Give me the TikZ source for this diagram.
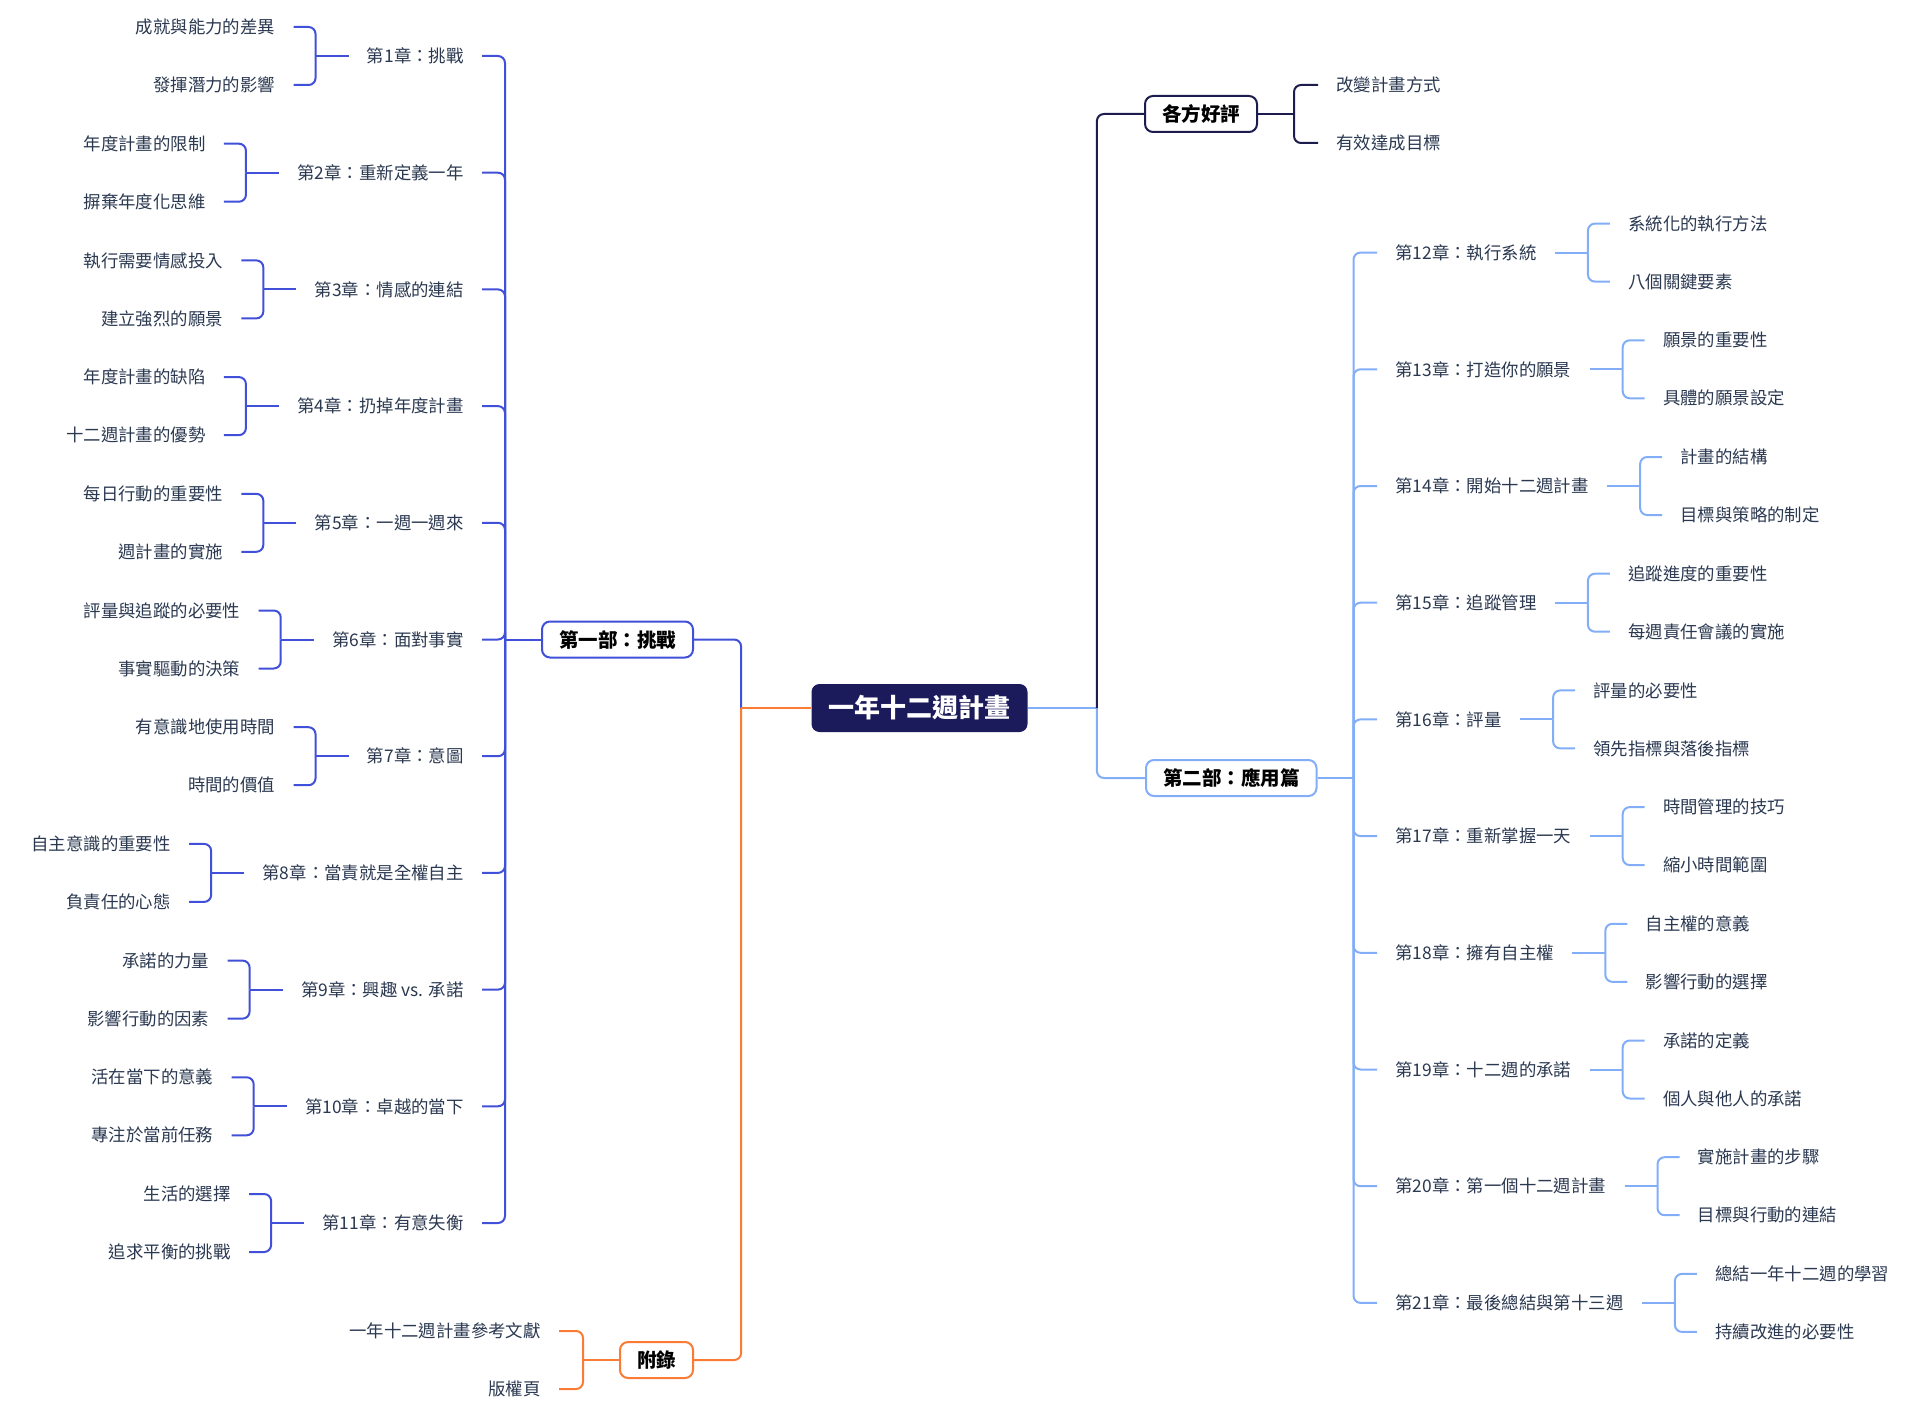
\documentclass[tikz,border=0pt]{standalone}
\usepackage{fontspec}
\setmainfont{Noto Sans CJK TC}
\usetikzlibrary{positioning,calc}
\definecolor{rootnavy}{HTML}{1B1A5A}
\definecolor{partblue}{HTML}{4150D8}
\definecolor{skyblue}{HTML}{82AEF8}
\definecolor{appendixorange}{HTML}{FA7B34}
\definecolor{reviewnavy}{HTML}{1C1C4F}
\definecolor{labelgray}{HTML}{2A3850}

\begin{document}
\begin{tikzpicture}[x=0.5pt,y=-0.5pt,
    root/.style={fill=rootnavy,text=white,rounded corners=4pt,inner xsep=8.5pt,
      minimum height=24pt,font=\bfseries\fontsize{13}{15}\selectfont},
    part/.style={draw=#1,line width=1pt,fill=white,rounded corners=4pt,inner xsep=8.5pt,
      minimum height=18pt,font=\bfseries\fontsize{9.75}{11}\selectfont},
    topic/.style={text=labelgray,inner xsep=9pt,inner ysep=2pt,font=\fontsize{8.7}{10}\selectfont},
    link/.style={draw=#1,line width=1pt,rounded corners=3.5pt}]
  \useasboundingbox (0,0) rectangle (1920,1417);

  % centre and main branches
  \node[root] (root) at (919.5,708) {一年十二週計畫};
  \node[part=partblue,anchor=east] (part1) at (694,639.5) {第一部：挑戰};
  \node[part=appendixorange,anchor=east] (appendix) at (694,1360) {附錄};
  \node[part=reviewnavy,anchor=west] (review) at (1144,114) {各方好評};
  \node[part=skyblue,anchor=west] (part2) at (1145,778) {第二部：應用篇};
  \coordinate[left=35pt of root] (rootl);
  \coordinate[right=34.5pt of root] (rootr);
  \coordinate[left=18pt of part1] (bar1);
  \coordinate[right=18pt of part2] (bar2);
  \coordinate[right=18pt of review] (jr);
  \coordinate[left=18pt of appendix] (ja);

  % part one
  \node[topic,anchor=east] (c1) at (482,56) {第1章：挑戰};
  \node[topic,anchor=east] (c2) at (482,172.7) {第2章：重新定義一年};
  \node[topic,anchor=east] (c3) at (482,289.4) {第3章：情感的連結};
  \node[topic,anchor=east] (c4) at (482,406.1) {第4章：扔掉年度計畫};
  \node[topic,anchor=east] (c5) at (482,522.8) {第5章：一週一週來};
  \node[topic,anchor=east] (c6) at (482,639.5) {第6章：面對事實};
  \node[topic,anchor=east] (c7) at (482,756.2) {第7章：意圖};
  \node[topic,anchor=east] (c8) at (482,872.9) {第8章：當責就是全權自主};
  \node[topic,anchor=east] (c9) at (482,989.6) {第9章：興趣 vs. 承諾};
  \node[topic,anchor=east] (c10) at (482,1106.3) {第10章：卓越的當下};
  \node[topic,anchor=east] (c11) at (482,1223) {第11章：有意失衡};
  \coordinate[left=16.5pt of c1] (j1);
  \coordinate[left=16.5pt of c2] (j2);
  \coordinate[left=16.5pt of c3] (j3);
  \coordinate[left=16.5pt of c4] (j4);
  \coordinate[left=16.5pt of c5] (j5);
  \coordinate[left=16.5pt of c6] (j6);
  \coordinate[left=16.5pt of c7] (j7);
  \coordinate[left=16.5pt of c8] (j8);
  \coordinate[left=16.5pt of c9] (j9);
  \coordinate[left=16.5pt of c10] (j10);
  \coordinate[left=16.5pt of c11] (j11);
  \node[topic,anchor=east] (l1a) at ($(j1)+(-22,-29)$) {成就與能力的差異};
  \node[topic,anchor=east] (l1b) at ($(j1)+(-22,29)$) {發揮潛力的影響};
  \node[topic,anchor=east] (l2a) at ($(j2)+(-22,-29)$) {年度計畫的限制};
  \node[topic,anchor=east] (l2b) at ($(j2)+(-22,29)$) {摒棄年度化思維};
  \node[topic,anchor=east] (l3a) at ($(j3)+(-22,-29)$) {執行需要情感投入};
  \node[topic,anchor=east] (l3b) at ($(j3)+(-22,29)$) {建立強烈的願景};
  \node[topic,anchor=east] (l4a) at ($(j4)+(-22,-29)$) {年度計畫的缺陷};
  \node[topic,anchor=east] (l4b) at ($(j4)+(-22,29)$) {十二週計畫的優勢};
  \node[topic,anchor=east] (l5a) at ($(j5)+(-22,-29)$) {每日行動的重要性};
  \node[topic,anchor=east] (l5b) at ($(j5)+(-22,29)$) {週計畫的實施};
  \node[topic,anchor=east] (l6a) at ($(j6)+(-22,-29)$) {評量與追蹤的必要性};
  \node[topic,anchor=east] (l6b) at ($(j6)+(-22,29)$) {事實驅動的決策};
  \node[topic,anchor=east] (l7a) at ($(j7)+(-22,-29)$) {有意識地使用時間};
  \node[topic,anchor=east] (l7b) at ($(j7)+(-22,29)$) {時間的價值};
  \node[topic,anchor=east] (l8a) at ($(j8)+(-22,-29)$) {自主意識的重要性};
  \node[topic,anchor=east] (l8b) at ($(j8)+(-22,29)$) {負責任的心態};
  \node[topic,anchor=east] (l9a) at ($(j9)+(-22,-29)$) {承諾的力量};
  \node[topic,anchor=east] (l9b) at ($(j9)+(-22,29)$) {影響行動的因素};
  \node[topic,anchor=east] (l10a) at ($(j10)+(-22,-29)$) {活在當下的意義};
  \node[topic,anchor=east] (l10b) at ($(j10)+(-22,29)$) {專注於當前任務};
  \node[topic,anchor=east] (l11a) at ($(j11)+(-22,-29)$) {生活的選擇};
  \node[topic,anchor=east] (l11b) at ($(j11)+(-22,29)$) {追求平衡的挑戰};

  % part two
  \node[topic,anchor=west] (c12) at (1377,252.6) {第12章：執行系統};
  \node[topic,anchor=west] (c13) at (1377,369.3) {第13章：打造你的願景};
  \node[topic,anchor=west] (c14) at (1377,486) {第14章：開始十二週計畫};
  \node[topic,anchor=west] (c15) at (1377,602.7) {第15章：追蹤管理};
  \node[topic,anchor=west] (c16) at (1377,719.4) {第16章：評量};
  \node[topic,anchor=west] (c17) at (1377,836.1) {第17章：重新掌握一天};
  \node[topic,anchor=west] (c18) at (1377,952.8) {第18章：擁有自主權};
  \node[topic,anchor=west] (c19) at (1377,1069.5) {第19章：十二週的承諾};
  \node[topic,anchor=west] (c20) at (1377,1186.2) {第20章：第一個十二週計畫};
  \node[topic,anchor=west] (c21) at (1377,1302.9) {第21章：最後總結與第十三週};
  \coordinate[right=16.5pt of c12] (j12);
  \coordinate[right=16.5pt of c13] (j13);
  \coordinate[right=16.5pt of c14] (j14);
  \coordinate[right=16.5pt of c15] (j15);
  \coordinate[right=16.5pt of c16] (j16);
  \coordinate[right=16.5pt of c17] (j17);
  \coordinate[right=16.5pt of c18] (j18);
  \coordinate[right=16.5pt of c19] (j19);
  \coordinate[right=16.5pt of c20] (j20);
  \coordinate[right=16.5pt of c21] (j21);
  \node[topic,anchor=west] (l12a) at ($(j12)+(22,-29)$) {系統化的執行方法};
  \node[topic,anchor=west] (l12b) at ($(j12)+(22,29)$) {八個關鍵要素};
  \node[topic,anchor=west] (l13a) at ($(j13)+(22,-29)$) {願景的重要性};
  \node[topic,anchor=west] (l13b) at ($(j13)+(22,29)$) {具體的願景設定};
  \node[topic,anchor=west] (l14a) at ($(j14)+(22,-29)$) {計畫的結構};
  \node[topic,anchor=west] (l14b) at ($(j14)+(22,29)$) {目標與策略的制定};
  \node[topic,anchor=west] (l15a) at ($(j15)+(22,-29)$) {追蹤進度的重要性};
  \node[topic,anchor=west] (l15b) at ($(j15)+(22,29)$) {每週責任會議的實施};
  \node[topic,anchor=west] (l16a) at ($(j16)+(22,-29)$) {評量的必要性};
  \node[topic,anchor=west] (l16b) at ($(j16)+(22,29)$) {領先指標與落後指標};
  \node[topic,anchor=west] (l17a) at ($(j17)+(22,-29)$) {時間管理的技巧};
  \node[topic,anchor=west] (l17b) at ($(j17)+(22,29)$) {縮小時間範圍};
  \node[topic,anchor=west] (l18a) at ($(j18)+(22,-29)$) {自主權的意義};
  \node[topic,anchor=west] (l18b) at ($(j18)+(22,29)$) {影響行動的選擇};
  \node[topic,anchor=west] (l19a) at ($(j19)+(22,-29)$) {承諾的定義};
  \node[topic,anchor=west] (l19b) at ($(j19)+(22,29)$) {個人與他人的承諾};
  \node[topic,anchor=west] (l20a) at ($(j20)+(22,-29)$) {實施計畫的步驟};
  \node[topic,anchor=west] (l20b) at ($(j20)+(22,29)$) {目標與行動的連結};
  \node[topic,anchor=west] (l21a) at ($(j21)+(22,-29)$) {總結一年十二週的學習};
  \node[topic,anchor=west] (l21b) at ($(j21)+(22,29)$) {持續改進的必要性};

  % reviews and appendix
  \node[topic,anchor=west] (ra) at ($(jr)+(24,-29)$) {改變計畫方式};
  \node[topic,anchor=west] (rb) at ($(jr)+(24,29)$) {有效達成目標};
  \node[topic,anchor=east] (aa) at ($(ja)+(-24,-29)$) {一年十二週計畫參考文獻};
  \node[topic,anchor=east] (ab) at ($(ja)+(-24,29)$) {版權頁};

  \begin{scope}[link=partblue]
    \draw (part1.east) -| (rootl);
    \draw (part1.west) -- (bar1);
    \draw (c1.east) -| (bar1);
    \draw (c2.east) -| (bar1);
    \draw (c3.east) -| (bar1);
    \draw (c4.east) -| (bar1);
    \draw (c5.east) -| (bar1);
    \draw (c6.east) -| (bar1);
    \draw (c7.east) -| (bar1);
    \draw (c8.east) -| (bar1);
    \draw (c9.east) -| (bar1);
    \draw (c10.east) -| (bar1);
    \draw (c11.east) -| (bar1);
    \draw (c1.west) -- (j1);  \draw (l1a.east) -| (j1);  \draw (l1b.east) -| (j1);
    \draw (c2.west) -- (j2);  \draw (l2a.east) -| (j2);  \draw (l2b.east) -| (j2);
    \draw (c3.west) -- (j3);  \draw (l3a.east) -| (j3);  \draw (l3b.east) -| (j3);
    \draw (c4.west) -- (j4);  \draw (l4a.east) -| (j4);  \draw (l4b.east) -| (j4);
    \draw (c5.west) -- (j5);  \draw (l5a.east) -| (j5);  \draw (l5b.east) -| (j5);
    \draw (c6.west) -- (j6);  \draw (l6a.east) -| (j6);  \draw (l6b.east) -| (j6);
    \draw (c7.west) -- (j7);  \draw (l7a.east) -| (j7);  \draw (l7b.east) -| (j7);
    \draw (c8.west) -- (j8);  \draw (l8a.east) -| (j8);  \draw (l8b.east) -| (j8);
    \draw (c9.west) -- (j9);  \draw (l9a.east) -| (j9);  \draw (l9b.east) -| (j9);
    \draw (c10.west) -- (j10);  \draw (l10a.east) -| (j10);  \draw (l10b.east) -| (j10);
    \draw (c11.west) -- (j11);  \draw (l11a.east) -| (j11);  \draw (l11b.east) -| (j11);
  \end{scope}
  \begin{scope}[link=skyblue]
    \draw (root.east) -- (rootr);
    \draw (part2.west) -| (rootr);
    \draw (part2.east) -- (bar2);
    \draw (c12.west) -| (bar2);
    \draw (c13.west) -| (bar2);
    \draw (c14.west) -| (bar2);
    \draw (c15.west) -| (bar2);
    \draw (c16.west) -| (bar2);
    \draw (c17.west) -| (bar2);
    \draw (c18.west) -| (bar2);
    \draw (c19.west) -| (bar2);
    \draw (c20.west) -| (bar2);
    \draw (c21.west) -| (bar2);
    \draw (c12.east) -- (j12);  \draw (l12a.west) -| (j12);  \draw (l12b.west) -| (j12);
    \draw (c13.east) -- (j13);  \draw (l13a.west) -| (j13);  \draw (l13b.west) -| (j13);
    \draw (c14.east) -- (j14);  \draw (l14a.west) -| (j14);  \draw (l14b.west) -| (j14);
    \draw (c15.east) -- (j15);  \draw (l15a.west) -| (j15);  \draw (l15b.west) -| (j15);
    \draw (c16.east) -- (j16);  \draw (l16a.west) -| (j16);  \draw (l16b.west) -| (j16);
    \draw (c17.east) -- (j17);  \draw (l17a.west) -| (j17);  \draw (l17b.west) -| (j17);
    \draw (c18.east) -- (j18);  \draw (l18a.west) -| (j18);  \draw (l18b.west) -| (j18);
    \draw (c19.east) -- (j19);  \draw (l19a.west) -| (j19);  \draw (l19b.west) -| (j19);
    \draw (c20.east) -- (j20);  \draw (l20a.west) -| (j20);  \draw (l20b.west) -| (j20);
    \draw (c21.east) -- (j21);  \draw (l21a.west) -| (j21);  \draw (l21b.west) -| (j21);
  \end{scope}
  \begin{scope}[link=reviewnavy]
    \draw (review.west) -| (rootr);
    \draw (review.east) -- (jr);  \draw (ra.west) -| (jr);  \draw (rb.west) -| (jr);
  \end{scope}
  \begin{scope}[link=appendixorange]
    \draw (root.west) -- (rootl);
    \draw (appendix.east) -| (rootl);
    \draw (appendix.west) -- (ja);  \draw (aa.east) -| (ja);  \draw (ab.east) -| (ja);
  \end{scope}
\end{tikzpicture}
\end{document}
